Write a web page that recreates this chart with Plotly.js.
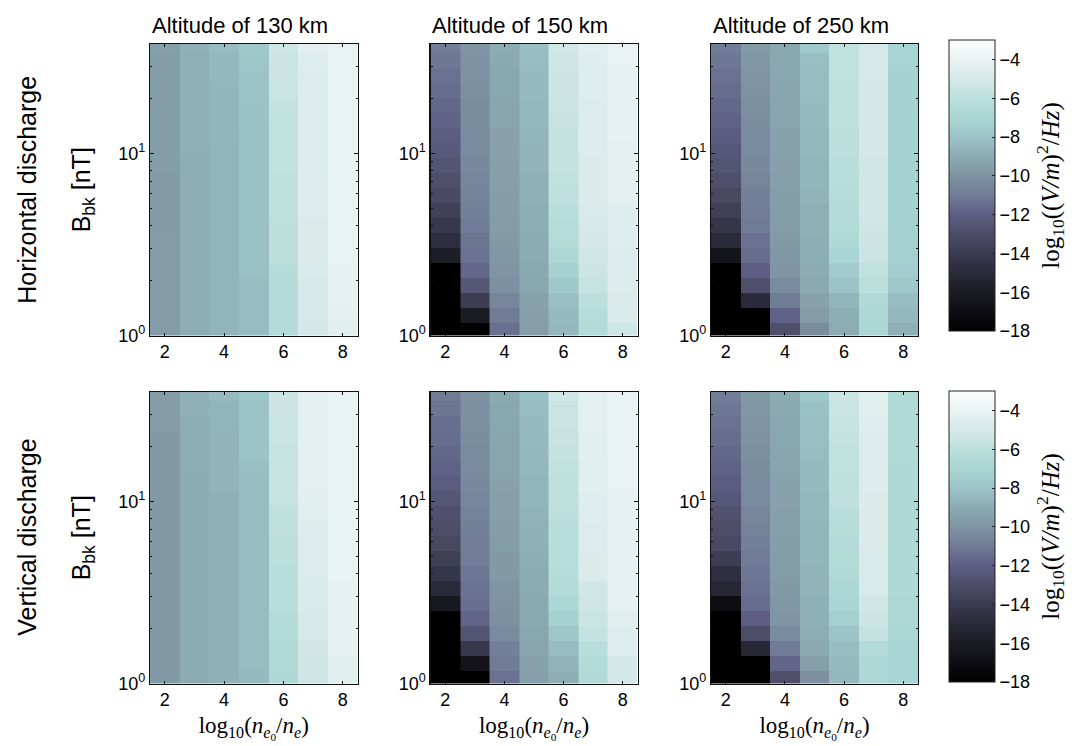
<!DOCTYPE html>
<html><head><meta charset="utf-8">
<script src="https://cdn.plot.ly/plotly-3.0.1.min.js"></script>
<style>html,body{margin:0;padding:0;background:#fff}</style></head>
<body><div id="chart" style="width:1078px;height:746px"></div>
<script>
const xCenters=[2,3,4,5,6,7,8];
const yEdges=[1,1.164,1.407,1.702,2.057,2.487,3.006,3.634,4.394,5.312,6.422,7.762,9.385,11.35,13.72,16.58,20.04,24.23,29.30,35.42,39.81];
const colorStops=[[-18,'#000000'],[-16,'#1b1b24'],[-14.5,'#323246'],[-13,'#4d4d68'],[-12,'#5e5e84'],[-11,'#707b96'],[-10,'#7f95a3'],[-9,'#8cabb3'],[-8,'#9cc4c8'],[-7,'#a9d6d4'],[-6,'#bcdfdc'],[-5,'#d6e9e8'],[-4,'#eaf3f4'],[-3,'#ffffff']];

// each panel: one list per column (x = 2..8), each list from the lowest row to the top row
const h130=[
[-9.7,-9.7,-9.7,-9.7,-9.7,-9.7,-9.7,-9.75,-9.75,-9.75,-9.75,-9.6,-9.6,-9.6,-9.6,-9.6,-9.6,-9.6,-9.6,-9.55],
[-8.9,-8.9,-8.9,-8.9,-8.9,-8.9,-8.9,-8.9,-8.9,-8.9,-8.9,-8.9,-8.85,-8.85,-8.85,-8.85,-8.85,-8.85,-8.85,-8.8],
[-8.6,-8.6,-8.6,-8.6,-8.6,-8.6,-8.6,-8.6,-8.6,-8.6,-8.6,-8.6,-8.6,-8.55,-8.55,-8.55,-8.55,-8.5,-8.5,-8.3],
[-8.3,-8.3,-8.3,-8.3,-8.1,-8.1,-8.1,-8.1,-8.1,-8.1,-8.1,-8.1,-8.1,-8.1,-8.05,-8.05,-8,-8,-7.9,-7.8],
[-6.4,-6.4,-6.4,-6.4,-6.3,-6,-6,-6,-5.9,-5.9,-5.9,-5.8,-5.8,-5.8,-5.8,-5.7,-5.5,-5.4,-5.4,-5.3],
[-5.1,-5,-5,-5,-4.9,-4.8,-4.8,-4.8,-4.7,-4.7,-4.7,-4.7,-4.7,-4.7,-4.7,-4.7,-4.7,-4.7,-4.6,-4.3],
[-4.4,-4.3,-4.2,-4.2,-4.2,-4.15,-4.15,-4.15,-4.15,-4.15,-4.1,-4.1,-4.1,-4.1,-4.1,-4.1,-4.1,-4.1,-4.1,-4.1]];
const h150=[
[-18,-18,-18,-18,-18,-15.8,-14.8,-14.2,-13.7,-13.2,-12.9,-12.6,-12.3,-12.1,-11.9,-11.7,-11.5,-11.3,-11.1,-10.9],
[-18,-16,-13.9,-12.5,-11.7,-11.3,-11.2,-11,-10.8,-10.7,-10.6,-10.5,-10.4,-10.4,-10.3,-10.3,-10.2,-10.1,-10.1,-10],
[-11.4,-11,-10.6,-10.2,-10,-9.9,-9.8,-9.7,-9.6,-9.6,-9.5,-9.5,-9.4,-9.4,-9.3,-9.3,-9.2,-9.2,-9.1,-9],
[-9.6,-9.5,-9.4,-9.2,-9.1,-9,-9,-8.9,-8.9,-8.8,-8.8,-8.7,-8.7,-8.6,-8.5,-8.5,-8.4,-8.4,-8.3,-8.2],
[-8.5,-8.4,-8.2,-7.8,-7.3,-6.8,-6.5,-6.3,-6.1,-5.9,-5.8,-5.7,-5.7,-5.7,-5.6,-5.5,-5.4,-5.4,-5.3,-5.2],
[-6.4,-6.3,-6,-5.6,-5.4,-5.2,-5.1,-5,-4.9,-4.8,-4.8,-4.8,-4.7,-4.7,-4.7,-4.7,-4.6,-4.6,-4.6,-4.5],
[-5.3,-4.9,-4.8,-4.7,-4.7,-4.7,-4.6,-4.6,-4.6,-4.3,-4.3,-4.3,-4.3,-4.2,-4.2,-4.2,-4.2,-4.2,-4.1,-4.1]];
const h250=[
[-18,-18,-18,-18,-18,-16.5,-15,-14.3,-13.8,-13.3,-12.9,-12.6,-12.4,-12.1,-11.9,-11.7,-11.5,-11.3,-11.1,-10.9],
[-18,-18,-15,-12.9,-12,-11.5,-11.3,-11,-10.9,-10.8,-10.6,-10.5,-10.4,-10.4,-10.3,-10.2,-10.1,-10,-9.9,-9.8],
[-12.9,-11.9,-11,-10.4,-10,-9.9,-9.8,-9.7,-9.6,-9.6,-9.5,-9.5,-9.4,-9.4,-9.3,-9.3,-9.3,-9.2,-9.2,-9.2],
[-10.3,-9.7,-9.4,-9.1,-9,-8.9,-8.9,-8.8,-8.8,-8.7,-8.6,-8.6,-8.5,-8.5,-8.4,-8.4,-8.3,-8.3,-8.2,-7.7],
[-9,-8.9,-8.6,-8,-7.6,-7,-6.7,-6.5,-6.4,-6.3,-6.2,-6.1,-6,-6,-5.9,-5.9,-5.9,-5.8,-5.8,-5.8],
[-6.9,-6.8,-6.6,-6,-5.8,-5.5,-5.4,-5.3,-5.2,-5.2,-5.2,-5.2,-5.1,-5.1,-5.1,-5.1,-5.1,-5,-5,-5],
[-8.8,-8.5,-8.3,-7.8,-7.5,-7.4,-7.3,-7.3,-7.2,-7.2,-7.2,-7.2,-7.2,-7.2,-7.2,-7.2,-7.2,-7.2,-7.1,-7.1]];
const v130=[
[-9.8,-9.8,-9.8,-9.8,-9.8,-9.8,-9.8,-9.8,-9.8,-9.8,-9.8,-9.8,-9.8,-9.8,-9.8,-9.8,-9.8,-9.7,-9.7,-9.7],
[-9,-9,-9,-9,-9,-9,-9,-9,-9,-9,-9,-9,-9,-9,-8.95,-8.95,-8.95,-8.95,-8.8,-8.8],
[-8.8,-8.8,-8.8,-8.8,-8.8,-8.8,-8.8,-8.8,-8.8,-8.8,-8.8,-8.8,-8.8,-8.7,-8.7,-8.7,-8.7,-8.6,-8.6,-8.4],
[-8.4,-8.3,-8.3,-8.3,-8.3,-8.3,-8.3,-8.3,-8.3,-8.3,-8.3,-8.3,-8.3,-8.3,-8.2,-8,-8,-8,-8,-7.9],
[-6.7,-6.6,-6.6,-6.5,-6.4,-6.1,-6.1,-6.1,-6,-6,-5.9,-5.9,-5.6,-5.6,-5.6,-5.6,-5.5,-5.5,-5.4,-5.4],
[-5.3,-5.3,-5.2,-5,-5,-4.9,-4.9,-4.7,-4.7,-4.7,-4.7,-4.5,-4.4,-4.3,-4.3,-4.3,-4.3,-4.3,-4.3,-4.3],
[-4.4,-4.4,-4.2,-4.2,-4.2,-4.2,-4.2,-4.15,-4.15,-4.15,-4.15,-4.15,-4.1,-4.1,-4.1,-4.1,-4.1,-4.1,-4,-4]];
const v150=[
[-18,-18,-18,-18,-18,-16.2,-15,-14.3,-13.8,-13.3,-13,-12.8,-12.5,-12.1,-11.9,-11.7,-11.5,-11.4,-11.2,-11],
[-18,-16.6,-14.2,-12.6,-11.8,-11.4,-11.3,-11.1,-10.9,-10.9,-10.8,-10.7,-10.6,-10.5,-10.4,-10.4,-10.3,-10.2,-10.2,-10.1],
[-11.3,-11,-10.8,-10.4,-10.2,-10.1,-10,-9.8,-9.8,-9.6,-9.6,-9.5,-9.5,-9.4,-9.3,-9.3,-9.3,-9.2,-9.2,-9.1],
[-9.5,-9.4,-9.3,-9.2,-9.1,-9.1,-9,-9,-8.9,-8.8,-8.8,-8.7,-8.6,-8.6,-8.5,-8.5,-8.4,-8.4,-8.3,-8.2],
[-8.9,-8.7,-8.3,-7.9,-7.3,-6.9,-6.5,-6.3,-6.2,-6.1,-6.1,-6,-5.9,-5.9,-5.8,-5.7,-5.6,-5.5,-5.5,-5.2],
[-6.6,-6.5,-6.2,-5.7,-5.5,-5.3,-5.2,-4.8,-4.8,-4.7,-4.7,-4.6,-4.6,-4.5,-4.5,-4.4,-4.4,-4.3,-4.3,-4.3],
[-5.1,-5.1,-4.6,-4.6,-4.5,-4.2,-4.2,-4.2,-4.2,-4.2,-4.2,-4.2,-4.2,-4.1,-4.1,-4.1,-4.1,-4.1,-4.1,-4]];
const v250=[
[-18,-18,-18,-18,-18,-17,-15.3,-14.7,-13.9,-13.2,-13,-12.7,-12.4,-12.1,-11.9,-11.7,-11.5,-11.3,-11.1,-10.9],
[-18,-18,-15.2,-13,-12,-11.5,-11.3,-11.1,-11,-10.8,-10.7,-10.6,-10.4,-10.4,-10.3,-10.2,-10.1,-10,-9.9,-9.8],
[-12.9,-11.8,-11,-10.4,-10,-9.9,-9.8,-9.7,-9.6,-9.6,-9.5,-9.5,-9.4,-9.4,-9.3,-9.3,-9.2,-9.2,-9.1,-9],
[-10.2,-9.5,-9.1,-8.9,-8.8,-8.8,-8.7,-8.7,-8.6,-8.6,-8.6,-8.5,-8.5,-8.4,-8.4,-8.3,-8.2,-8.2,-8.1,-7.8],
[-8.5,-8.4,-8.3,-8,-7.4,-7,-6.9,-6.6,-6.5,-6.4,-6.3,-6.2,-5.9,-5.9,-5.8,-5.8,-5.7,-5.6,-5.5,-5.4],
[-6.8,-6.7,-6.4,-5.7,-5.4,-5.2,-4.9,-4.9,-4.9,-4.8,-4.8,-4.8,-4.8,-4.7,-4.7,-4.7,-4.7,-4.6,-4.5,-4.5],
[-7.1,-7,-7,-6.9,-6.8,-6.8,-6.7,-6.7,-6.7,-6.7,-6.7,-6.7,-6.7,-6.7,-6.7,-6.6,-6.6,-6.6,-6.6,-6.6]];

const panelData=[h130,h150,h250,v130,v150,v250];
const altitudeTitles=['Altitude of 130 km','Altitude of 150 km','Altitude of 250 km'];
const rowTitles=['Horizontal discharge','Vertical discharge'];
const xTicks=[2,4,6,8];
const yTicks=[1,10];
const yTickLabels=['10<sup>0</sup>','10<sup>1</sup>'];
const yMinor=[2,3,4,5,6,7,8,9,20,30,40];
const cbTicks=[-4,-6,-8,-10,-12,-14,-16,-18];

const W=1078,H=746;
const colsPx=[[150,357.5],[430.5,637.5],[711,918]];
const rowsPx=[[44,335.5],[392,683.5]];
const cbBottomPx=[331,682];
const titleCenterPx=[240,520,801];
const colorscale=colorStops.map(s=>[(s[0]+18)/15,s[1]]);
const sans='"Liberation Sans", Arial, sans-serif';
const serif='"Liberation Serif", serif';
const transpose=c=>c[0].map((_,r)=>c.map(col=>col[r]));

const traces=[],layout={width:W,height:H,margin:{l:0,r:0,t:0,b:0},paper_bgcolor:'#fff',plot_bgcolor:'#fff',showlegend:false,font:{family:sans,color:'#000'},annotations:[]};
panelData.forEach((cols,i)=>{
  const c=i%3,r=Math.floor(i/3),n=i+1,sfx=n===1?'':n;
  const tr={type:'heatmap',x:xCenters,y:yEdges,z:transpose(cols),xaxis:'x'+sfx,yaxis:'y'+sfx,colorscale,zmin:-18,zmax:-3,showscale:false,hoverinfo:'skip'};
  if(c===2){
    tr.showscale=true;
    tr.colorbar={x:949/W,xanchor:'left',xpad:0,xref:'paper',y:1-cbBottomPx[r]/H,yanchor:'bottom',ypad:0,yref:'paper',len:291,lenmode:'pixels',thickness:46,thicknessmode:'pixels',
      outlinewidth:1,outlinecolor:'#222',tickmode:'array',tickvals:cbTicks,ticks:'inside',ticklen:3,tickcolor:'#222',tickfont:{size:18,family:sans},
      title:{text:'log<sub>10</sub>((<i>V/m</i>)<sup>2</sup>/<i>Hz</i>)',side:'right',font:{size:25,family:serif}}};
  }
  traces.push(tr);
  layout['xaxis'+sfx]={domain:[colsPx[c][0]/W,colsPx[c][1]/W],anchor:'y'+sfx,range:[1.5,8.5],tickmode:'array',tickvals:xTicks,ticks:'inside',ticklen:3,tickcolor:'#111',tickwidth:1,showline:true,linecolor:'#111',linewidth:1.2,mirror:'ticks',showgrid:false,zeroline:false,tickfont:{size:18,family:sans},
    title:r===1?{text:'log<sub>10</sub>(<i>n</i><sub><i>e</i><sub>0</sub></sub>/<i>n</i><sub><i>e</i></sub>)',font:{size:23,family:serif},standoff:7}:undefined};
  layout['yaxis'+sfx]={domain:[1-rowsPx[r][1]/H,1-rowsPx[r][0]/H],anchor:'x'+sfx,type:'log',range:[0,1.6],tickmode:'array',tickvals:yTicks,ticktext:yTickLabels,ticks:'inside',ticklen:4,tickcolor:'#111',showline:true,linecolor:'#111',linewidth:1.2,mirror:'ticks',showgrid:false,zeroline:false,tickfont:{size:18,family:sans},
    minor:{tickmode:'array',tickvals:yMinor,ticks:'inside',ticklen:2,tickcolor:'#111',showgrid:false},
    title:c===0?{text:'B<sub>bk</sub> [nT]',font:{size:25,family:sans},standoff:20}:undefined};
});
altitudeTitles.forEach((t,c)=>layout.annotations.push({text:t,xref:'paper',yref:'paper',x:titleCenterPx[c]/W,y:1-25/H,showarrow:false,font:{size:22,family:sans},xanchor:'center',yanchor:'middle'}));
rowTitles.forEach((t,r)=>layout.annotations.push({text:t,xref:'paper',yref:'paper',x:27/W,y:1-(rowsPx[r][0]+rowsPx[r][1])/2/H,showarrow:false,textangle:-90,font:{size:25,family:sans},xanchor:'center',yanchor:'middle'}));
Plotly.newPlot('chart',traces,layout,{displayModeBar:false,staticPlot:true});
</script></body></html>
